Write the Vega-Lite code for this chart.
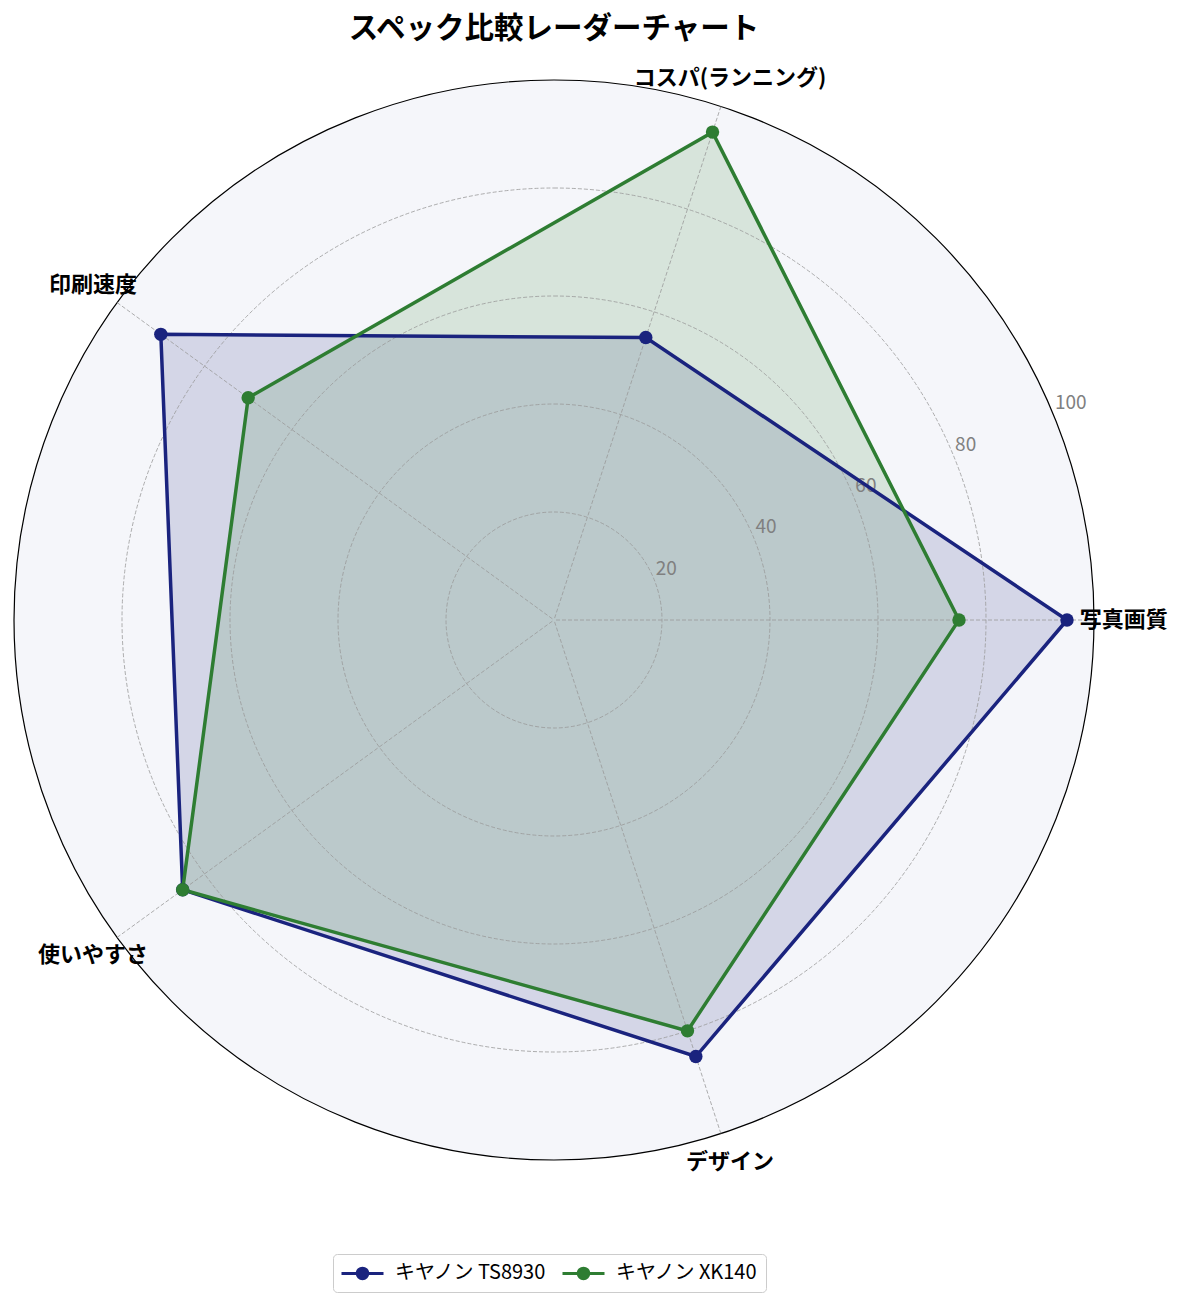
{
  "$schema": "https://vega.github.io/schema/vega-lite/v6.json",
  "width": 1080,
  "height": 1080,
  "autosize": {"type": "none"},
  "padding": {"left": 14, "top": 80, "right": 91, "bottom": 144},
  "background": "white",
  "title": {
    "text": "スペック比較レーダーチャート",
    "font": "Noto Sans CJK JP",
    "fontSize": 29.5,
    "fontWeight": "bold",
    "color": "black",
    "anchor": "middle",
    "offset": 23
  },
  "config": {"view": {"stroke": null}, "font": "Noto Sans CJK JP"},
  "datasets": {
    "scores": [
      {"series": "キヤノン TS8930", "category": "写真画質", "value": 95},
      {"series": "キヤノン TS8930", "category": "コスパ(ランニング)", "value": 55},
      {"series": "キヤノン TS8930", "category": "印刷速度", "value": 90},
      {"series": "キヤノン TS8930", "category": "使いやすさ", "value": 85},
      {"series": "キヤノン TS8930", "category": "デザイン", "value": 85},
      {"series": "キヤノン XK140", "category": "写真画質", "value": 75},
      {"series": "キヤノン XK140", "category": "コスパ(ランニング)", "value": 95},
      {"series": "キヤノン XK140", "category": "印刷速度", "value": 70},
      {"series": "キヤノン XK140", "category": "使いやすさ", "value": 85},
      {"series": "キヤノン XK140", "category": "デザイン", "value": 80}
    ],
    "axes": [
      {"category": "写真画質"},
      {"category": "コスパ(ランニング)"},
      {"category": "印刷速度"},
      {"category": "使いやすさ"},
      {"category": "デザイン"}
    ],
    "rings": [{"r": 20}, {"r": 40}, {"r": 60}, {"r": 80}, {"r": 100}]
  },
  "layer": [
    {
      "data": {"name": "rings"},
      "transform": [{"filter": "datum.r == 100"}],
      "mark": {"type": "arc", "theta": 0, "theta2": 6.2832, "fill": "#f5f6fa", "stroke": "black", "strokeWidth": 1.2},
      "encoding": {
        "radius": {"field": "r", "type": "quantitative", "stack": null, "scale": {"type": "linear", "domain": [0, 100], "range": [0, 540], "zero": true, "nice": false}}
      }
    },
    {
      "data": {"name": "scores"},
      "transform": [
        {"filter": "datum.series == 'キヤノン TS8930'"},
        {"calculate": "indexof(['写真画質','コスパ(ランニング)','印刷速度','使いやすさ','デザイン'], datum.category)", "as": "idx"},
        {"calculate": "datum.value * cos(datum.idx * 2 * PI / 5)", "as": "px"},
        {"calculate": "datum.value * sin(datum.idx * 2 * PI / 5)", "as": "py"}
      ],
      "mark": {"type": "line", "interpolate": "linear-closed", "strokeWidth": 0, "strokeOpacity": 0, "fill": "#1a237e", "fillOpacity": 0.15},
      "encoding": {
        "x": {"field": "px", "type": "quantitative", "scale": {"domain": [-100, 100], "nice": false, "zero": false}, "axis": null},
        "y": {"field": "py", "type": "quantitative", "scale": {"domain": [-100, 100], "nice": false, "zero": false}, "axis": null},
        "order": {"field": "idx"}
      }
    },
    {
      "data": {"name": "scores"},
      "transform": [
        {"filter": "datum.series == 'キヤノン XK140'"},
        {"calculate": "indexof(['写真画質','コスパ(ランニング)','印刷速度','使いやすさ','デザイン'], datum.category)", "as": "idx"},
        {"calculate": "datum.value * cos(datum.idx * 2 * PI / 5)", "as": "px"},
        {"calculate": "datum.value * sin(datum.idx * 2 * PI / 5)", "as": "py"}
      ],
      "mark": {"type": "line", "interpolate": "linear-closed", "strokeWidth": 0, "strokeOpacity": 0, "fill": "#2e7d32", "fillOpacity": 0.15},
      "encoding": {
        "x": {"field": "px", "type": "quantitative"},
        "y": {"field": "py", "type": "quantitative"},
        "order": {"field": "idx"}
      }
    },
    {
      "data": {"name": "rings"},
      "transform": [{"filter": "datum.r < 100"}],
      "mark": {"type": "arc", "theta": 0, "theta2": 6.2832, "filled": false, "stroke": "#999999", "strokeWidth": 0.8, "strokeDash": [4, 2]},
      "encoding": {
        "radius": {"field": "r", "type": "quantitative", "stack": null, "scale": {"type": "linear", "domain": [0, 100], "range": [0, 540], "zero": true, "nice": false}}
      }
    },
    {
      "data": {"name": "axes"},
      "transform": [
        {"calculate": "indexof(['写真画質','コスパ(ランニング)','印刷速度','使いやすさ','デザイン'], datum.category)", "as": "idx"},
        {"calculate": "100 * cos(datum.idx * 2 * PI / 5)", "as": "px"},
        {"calculate": "100 * sin(datum.idx * 2 * PI / 5)", "as": "py"}
      ],
      "mark": {"type": "rule", "stroke": "#999999", "strokeWidth": 0.8, "strokeDash": [4, 2]},
      "encoding": {
        "x": {"field": "px", "type": "quantitative"},
        "y": {"field": "py", "type": "quantitative"},
        "x2": {"datum": 0},
        "y2": {"datum": 0}
      }
    },
    {
      "data": {"name": "rings"},
      "transform": [
        {"calculate": "datum.r * cos(PI / 8)", "as": "px"},
        {"calculate": "datum.r * sin(PI / 8)", "as": "py"},
        {"calculate": "'' + datum.r", "as": "label"}
      ],
      "mark": {"type": "text", "align": "left", "baseline": "alphabetic", "dx": 2, "dy": -4, "fontSize": 19, "color": "#808080", "font": "Noto Sans CJK JP"},
      "encoding": {
        "x": {"field": "px", "type": "quantitative"},
        "y": {"field": "py", "type": "quantitative"},
        "text": {"field": "label"}
      }
    },
    {
      "data": {"name": "scores"},
      "transform": [
        {"calculate": "indexof(['写真画質','コスパ(ランニング)','印刷速度','使いやすさ','デザイン'], datum.category)", "as": "idx"},
        {"calculate": "datum.value * cos(datum.idx * 2 * PI / 5)", "as": "px"},
        {"calculate": "datum.value * sin(datum.idx * 2 * PI / 5)", "as": "py"}
      ],
      "mark": {"type": "line", "interpolate": "linear-closed", "strokeWidth": 3.5},
      "encoding": {
        "x": {"field": "px", "type": "quantitative"},
        "y": {"field": "py", "type": "quantitative"},
        "order": {"field": "idx"},
        "color": {
          "field": "series",
          "type": "nominal",
          "scale": {"domain": ["キヤノン TS8930", "キヤノン XK140"], "range": ["#1a237e", "#2e7d32"]},
          "legend": {
            "title": null,
            "orient": "none",
            "legendX": 319,
            "legendY": 1174,
            "direction": "horizontal",
            "symbolType": "M-1,0L3,0M1.5,0A0.5,0.5,0,1,1,0.5,0A0.5,0.5,0,1,1,1.5,0Z",
            "symbolSize": 441,
            "symbolStrokeWidth": 3,
            "symbolOpacity": 1,
            "labelFont": "Noto Sans CJK JP",
            "labelFontSize": 20,
            "labelColor": "black",
            "labelOffset": 31,
            "columnPadding": 9,
            "padding": 7,
            "strokeColor": "#cccccc",
            "fillColor": "white",
            "cornerRadius": 4,
            "encode": {"symbols": {"update": {"stroke": {"scale": "color", "field": "value"}, "fill": {"scale": "color", "field": "value"}}}}
          }
        }
      }
    },
    {
      "data": {"name": "scores"},
      "transform": [
        {"calculate": "indexof(['写真画質','コスパ(ランニング)','印刷速度','使いやすさ','デザイン'], datum.category)", "as": "idx"},
        {"calculate": "datum.value * cos(datum.idx * 2 * PI / 5)", "as": "px"},
        {"calculate": "datum.value * sin(datum.idx * 2 * PI / 5)", "as": "py"}
      ],
      "mark": {"type": "point", "shape": "circle", "filled": true, "size": 180, "opacity": 1},
      "encoding": {
        "x": {"field": "px", "type": "quantitative"},
        "y": {"field": "py", "type": "quantitative"},
        "color": {
          "field": "series",
          "type": "nominal",
          "scale": {"domain": ["キヤノン TS8930", "キヤノン XK140"], "range": ["#1a237e", "#2e7d32"]},
          "legend": {
            "title": null,
            "orient": "none",
            "legendX": 319,
            "legendY": 1174,
            "direction": "horizontal",
            "symbolType": "M-1,0L3,0M1.5,0A0.5,0.5,0,1,1,0.5,0A0.5,0.5,0,1,1,1.5,0Z",
            "symbolSize": 441,
            "symbolStrokeWidth": 3,
            "symbolOpacity": 1,
            "labelFont": "Noto Sans CJK JP",
            "labelFontSize": 20,
            "labelColor": "black",
            "labelOffset": 31,
            "columnPadding": 9,
            "padding": 7,
            "strokeColor": "#cccccc",
            "fillColor": "white",
            "cornerRadius": 4,
            "encode": {"symbols": {"update": {"stroke": {"scale": "color", "field": "value"}, "fill": {"scale": "color", "field": "value"}}}}
          }
        }
      }
    },
    {
      "data": {"name": "axes"},
      "transform": [
        {"calculate": "indexof(['写真画質','コスパ(ランニング)','印刷速度','使いやすさ','デザイン'], datum.category)", "as": "idx"},
        {"calculate": "105.5 * cos(datum.idx * 2 * PI / 5)", "as": "px"},
        {"calculate": "105.5 * sin(datum.idx * 2 * PI / 5)", "as": "py"}
      ],
      "mark": {"type": "text", "align": "center", "baseline": "middle", "fontSize": 22, "fontWeight": "bold", "color": "black", "font": "Noto Sans CJK JP"},
      "encoding": {
        "x": {"field": "px", "type": "quantitative"},
        "y": {"field": "py", "type": "quantitative"},
        "text": {"field": "category"}
      }
    }
  ]
}
